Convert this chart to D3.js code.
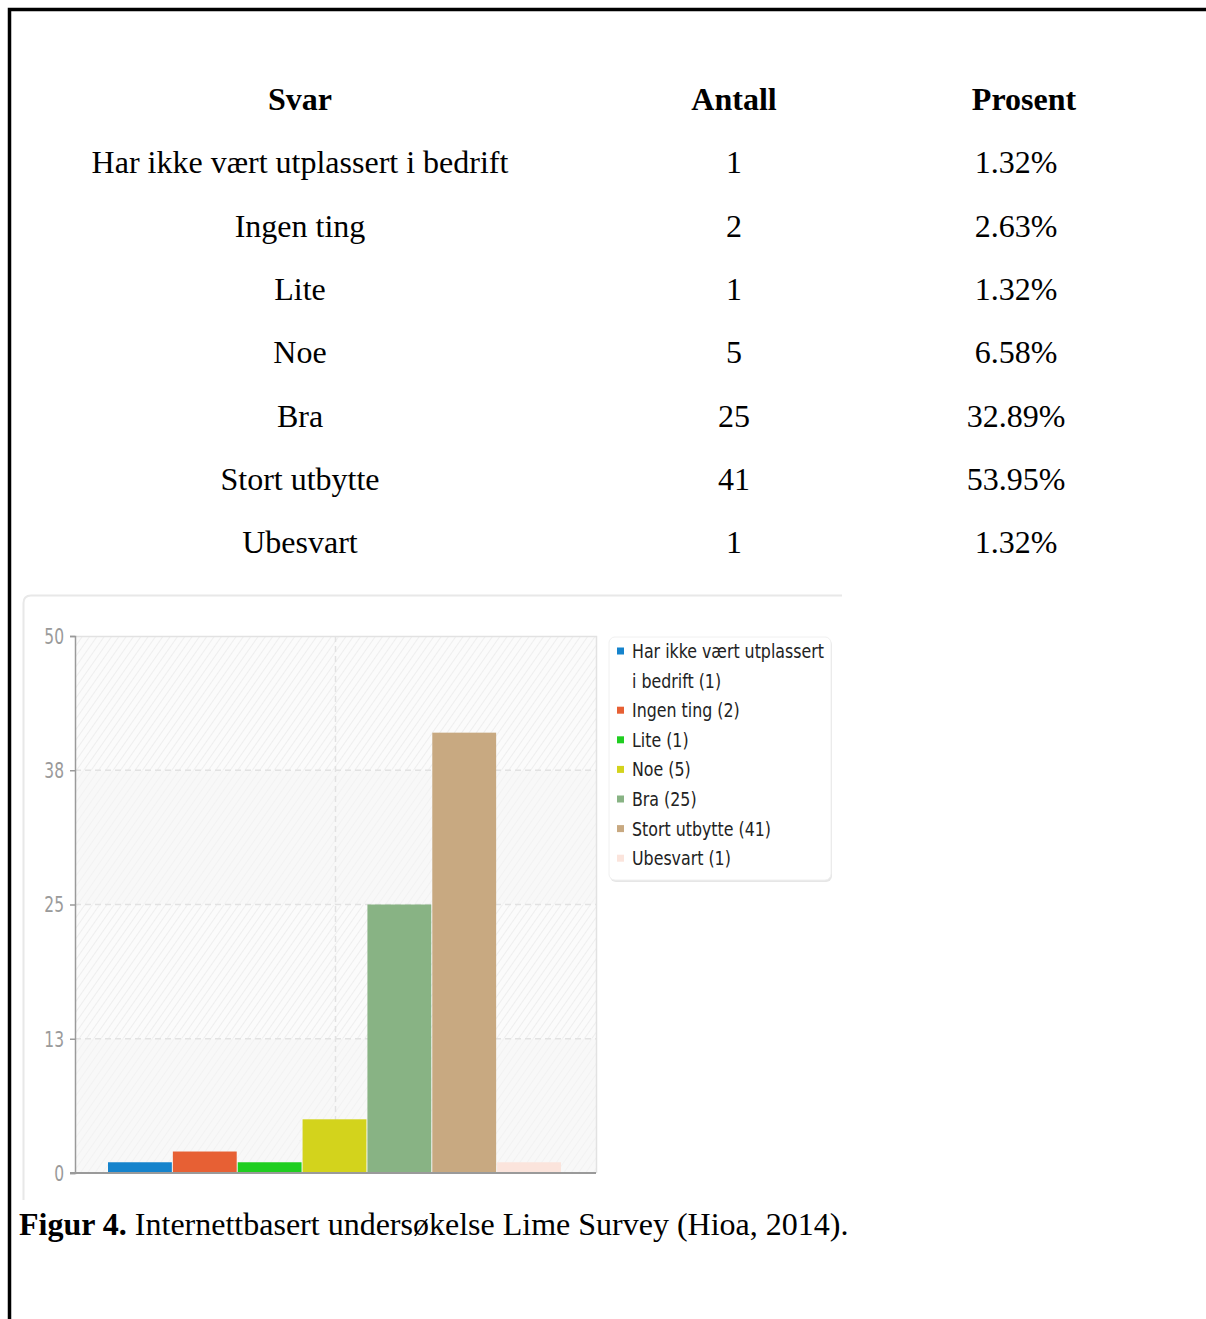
<!DOCTYPE html>
<html>
<head>
<meta charset="utf-8">
<script src="https://cdn.jsdelivr.net/npm/d3@7"></script>
<style>
  html, body { margin: 0; padding: 0; background: #fff; }
  svg { display: block; }
</style>
</head>
<body>
<svg id="page" width="1206" height="1319"></svg>
<script>
// Survey answers, counts and shares
const categories = [
  "Har ikke vært utplassert i bedrift",
  "Ingen ting",
  "Lite",
  "Noe",
  "Bra",
  "Stort utbytte",
  "Ubesvart"
];
const counts = [1, 2, 1, 5, 25, 41, 1];
const percents = ["1.32%", "2.63%", "1.32%", "6.58%", "32.89%", "53.95%", "1.32%"];
const barColors = ["#1583cc", "#e76034", "#1fce20", "#d3d31c", "#88b384", "#c8a981", "#fbe4dc"];
const tickValues = [0, 12.5, 25, 37.5, 50];
const headers = ["Svar", "Antall", "Prosent"];

const svg = d3.select("#page");
const serif = "'Liberation Serif', 'Times New Roman', serif";
const cond = "'DejaVu Sans Condensed', 'DejaVu Sans', sans-serif";
const bodySize = 32;

// page frame
svg.append("path")
  .attr("d", "M9.5,1319 L9.5,9.5 L1206,9.5")
  .attr("fill", "none").attr("stroke", "#000").attr("stroke-width", 3.5);

// ---------- table ----------
const colX = [300, 734, 1016];
const headX = [300, 734, 1024];
const rowY = d3.scaleLinear().domain([0, 1]).range([110, 173.3]);

const table = svg.append("g").attr("font-family", serif).attr("fill", "#000");
table.selectAll("text.head").data(headers).join("text")
  .attr("class", "head")
  .attr("x", (d, i) => headX[i]).attr("y", rowY(0))
  .attr("text-anchor", "middle").attr("font-weight", "bold").attr("font-size", bodySize)
  .text(d => d);

const rows = table.selectAll("g.row").data(categories).join("g").attr("class", "row");
rows.append("text").attr("x", colX[0]).attr("y", (d, i) => rowY(i + 1))
  .attr("text-anchor", "middle").attr("font-size", bodySize).text(d => d);
rows.append("text").attr("x", colX[1]).attr("y", (d, i) => rowY(i + 1))
  .attr("text-anchor", "middle").attr("font-size", bodySize).text((d, i) => counts[i]);
rows.append("text").attr("x", colX[2]).attr("y", (d, i) => rowY(i + 1))
  .attr("text-anchor", "middle").attr("font-size", bodySize).text((d, i) => percents[i]);

// ---------- chart panel ----------
const panel = svg.append("g");
panel.append("path")
  .attr("d", "M23.5,1200 L23.5,603 Q23.5,595.5 31,595.5 L842,595.5")
  .attr("fill", "none").attr("stroke", "#e8e8e8").attr("stroke-width", 2);

const plot = { left: 75, right: 596, top: 636, bottom: 1173 };
const y = d3.scaleLinear().domain([0, 50]).range([plot.bottom, plot.top]);
const x = d3.scaleBand().domain(categories).range([plot.left + 33, plot.right - 34]).padding(0);

const defs = svg.append("defs");
function hatch(id, bg, line) {
  const p = defs.append("pattern").attr("id", id).attr("patternUnits", "userSpaceOnUse")
    .attr("width", 6).attr("height", 6).attr("patternTransform", "rotate(35)");
  p.append("rect").attr("width", 6).attr("height", 6).attr("fill", bg);
  p.append("line").attr("x1", 0).attr("y1", 0).attr("x2", 0).attr("y2", 6)
    .attr("stroke", line).attr("stroke-width", 1.6);
}
hatch("hatchA", "#fbfbfb", "#ebebeb");
hatch("hatchB", "#f8f8f8", "#f1f1f1");

// alternating bands between ticks
const bands = d3.pairs(tickValues);
panel.selectAll("rect.band").data(bands).join("rect")
  .attr("class", "band")
  .attr("x", plot.left).attr("width", plot.right - plot.left)
  .attr("y", d => y(d[1])).attr("height", d => y(d[0]) - y(d[1]))
  .attr("fill", (d, i) => i % 2 === 0 ? "url(#hatchB)" : "url(#hatchA)");

// plot frame (top and right)
panel.append("path")
  .attr("d", `M${plot.left},${plot.top + 0.5} L${plot.right + 0.5},${plot.top + 0.5} L${plot.right + 0.5},${plot.bottom}`)
  .attr("fill", "none").attr("stroke", "#e2e2e2").attr("stroke-width", 1.5);

// dashed grid
panel.selectAll("line.hgrid").data(tickValues.slice(1, -1)).join("line")
  .attr("class", "hgrid")
  .attr("x1", plot.left).attr("x2", plot.right)
  .attr("y1", d => y(d)).attr("y2", d => y(d))
  .attr("stroke", "#e2e2e2").attr("stroke-width", 1.5).attr("stroke-dasharray", "6,4");
panel.append("line")
  .attr("x1", (plot.left + plot.right) / 2).attr("x2", (plot.left + plot.right) / 2)
  .attr("y1", plot.top).attr("y2", plot.bottom)
  .attr("stroke", "#e2e2e2").attr("stroke-width", 1.5).attr("stroke-dasharray", "6,4");

// bars
panel.selectAll("rect.bar").data(categories).join("rect")
  .attr("class", "bar")
  .attr("x", d => x(d)).attr("width", x.bandwidth() - 1)
  .attr("y", (d, i) => y(counts[i])).attr("height", (d, i) => y(0) - y(counts[i]))
  .attr("fill", (d, i) => barColors[i]);

// y axis
const tickScaleX = 0.82;
const yAxis = d3.axisLeft(y).tickValues(tickValues).tickSize(5).tickPadding(6)
  .tickFormat(d => Math.round(d));
const ga = panel.append("g").attr("transform", `translate(${plot.left},0)`).call(yAxis);
ga.select(".domain").attr("stroke", "#9a9a9a").attr("stroke-width", 1.5);
ga.selectAll(".tick line").attr("stroke", "#9a9a9a").attr("stroke-width", 1.5);
ga.selectAll(".tick text").attr("fill", "#9a9a9a").attr("font-family", cond)
  .attr("font-size", 21).attr("dy", "0.35em")
  .attr("transform", `scale(${tickScaleX},1)`)
  .attr("x", -11 / tickScaleX);

// x baseline
panel.append("line").attr("x1", plot.left - 5).attr("x2", plot.right)
  .attr("y1", plot.bottom).attr("y2", plot.bottom)
  .attr("stroke", "#9a9a9a").attr("stroke-width", 2);

// ---------- legend ----------
const leg = { x: 609, y: 637, w: 222, h: 243 };
const lg = panel.append("g");
lg.append("rect").attr("x", leg.x + 1).attr("y", leg.y + 2).attr("width", leg.w).attr("height", leg.h)
  .attr("rx", 6).attr("fill", "#e6e6e6");
lg.append("rect").attr("x", leg.x).attr("y", leg.y).attr("width", leg.w).attr("height", leg.h)
  .attr("rx", 6).attr("fill", "#fff").attr("stroke", "#f0f0f0");

const sx = 0.88;              // horizontal compression of legend text
const textLeft = 632;
const maxW = 196;
const lineH = 29.6;
let lineIdx = 0;
categories.forEach((c, i) => {
  const label = `${c} (${counts[i]})`;
  const words = label.split(" ");
  // word wrap measured at final width
  const lines = [];
  let cur = "";
  const probe = lg.append("text").attr("font-family", cond).attr("font-size", 20);
  words.forEach(w => {
    const t = cur ? cur + " " + w : w;
    probe.text(t);
    if (probe.node().getComputedTextLength() * sx > maxW && cur) {
      lines.push(cur); cur = w;
    } else cur = t;
  });
  lines.push(cur);
  probe.remove();
  const cy0 = 651 + lineIdx * lineH;
  lg.append("rect").attr("x", 617).attr("y", cy0 - 3.5).attr("width", 7).attr("height", 7)
    .attr("fill", barColors[i]);
  lines.forEach((ln, k) => {
    lg.append("text")
      .attr("transform", `translate(${textLeft},${cy0 + k * lineH}) scale(${sx},1)`)
      .attr("dy", "0.35em")
      .attr("font-family", cond).attr("font-size", 20).attr("fill", "#222")
      .text(ln);
  });
  lineIdx += lines.length;
});

// ---------- caption ----------
const cap = svg.append("text").attr("x", 19).attr("y", 1235)
  .attr("font-family", serif).attr("font-size", bodySize).attr("fill", "#000");
cap.append("tspan").attr("font-weight", "bold").text("Figur 4.");
cap.append("tspan").text(" Internettbasert undersøkelse Lime Survey (Hioa, 2014).");
</script>
</body>
</html>
